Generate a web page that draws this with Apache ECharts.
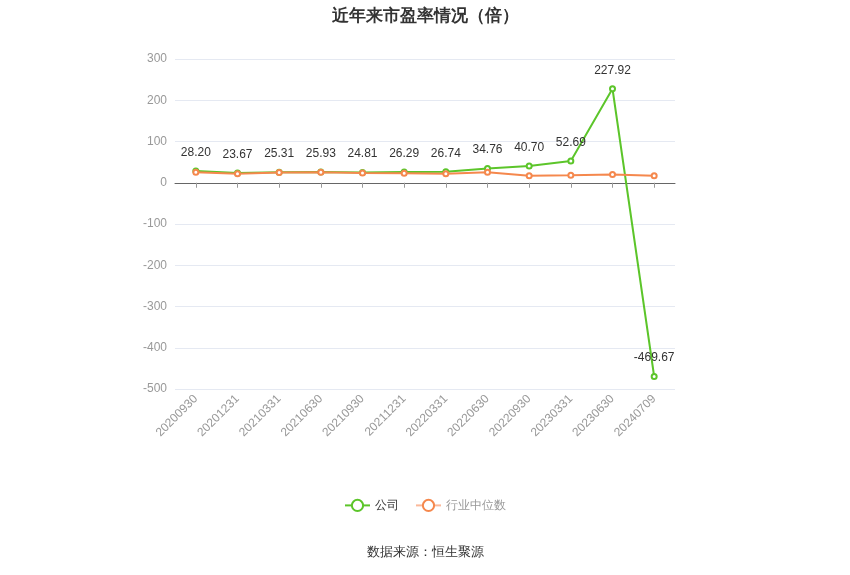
<!DOCTYPE html>
<html lang="zh">
<head>
    <meta charset="UTF-8">
    <title>近年来市盈率情况（倍）</title>
    <script src="https://cdn.jsdelivr.net/npm/echarts@6.0.0/dist/echarts.min.js"></script>
    <style>
        body { margin: 0; padding: 0; background: #fff; }
        #chart { width: 850px; height: 575px; }
    </style>
</head>
<body>
<div id="chart"></div>
<script>
    const dates = ['20200930', '20201231', '20210331', '20210630', '20210930', '20211231',
        '20220331', '20220630', '20220930', '20230331', '20230630', '20240709'];
    const companyPE = [28.20, 23.67, 25.31, 25.93, 24.81, 26.29, 26.74, 34.76, 40.70, 52.69, 227.92, -469.67];
    const industryPE = [25.7, 21.8, 24.8, 25.2, 23.8, 23.2, 22.0, 25.5, 17.0, 18.0, 20.0, 17.0];

    const chart = echarts.init(document.getElementById('chart'));

    chart.setOption({
        animation: false,
        title: {
            text: '近年来市盈率情况（倍）',
            left: 'center',
            top: 3,
            textStyle: { fontSize: 17, fontWeight: 'bold', color: '#333' }
        },
        legend: {
            bottom: 58,
            left: 'center',
            itemWidth: 25,
            itemHeight: 14,
            itemGap: 16,
            data: [
                { name: '公司', textStyle: { color: '#333' } },
                {
                    name: '行业中位数',
                    textStyle: { color: '#999' },
                    itemStyle: { borderColor: '#fbb99a' },
                    lineStyle: { color: '#fbb99a' }
                }
            ],
            textStyle: { fontSize: 12 }
        },
        graphic: [{
            type: 'text',
            left: 'center',
            top: 546,
            style: { text: '数据来源：恒生聚源', fill: '#333', fontSize: 13 }
        }],
        grid: { left: 175, right: 175, top: 59, bottom: 186 },
        xAxis: {
            type: 'category',
            data: dates,
            boundaryGap: true,
            axisLine: { onZero: true, lineStyle: { color: '#666' } },
            axisTick: { show: true, alignWithLabel: true, lineStyle: { color: '#999' } },
            axisLabel: { rotate: 45, color: '#999', fontSize: 12, margin: 8, interval: 0 }
        },
        yAxis: {
            type: 'value',
            min: -500,
            max: 300,
            interval: 100,
            axisLine: { show: false },
            axisTick: { show: false },
            axisLabel: { color: '#999', fontSize: 12 },
            splitLine: { lineStyle: { color: '#e5e9f2' } }
        },
        series: [
            {
                name: '公司',
                type: 'line',
                data: companyPE,
                symbol: 'emptyCircle',
                symbolSize: 5,
                color: '#5cc52a',
                lineStyle: { width: 2, color: '#5cc52a' },
                itemStyle: { color: '#5cc52a' },
                label: {
                    show: true,
                    position: 'top',
                    color: '#333',
                    fontSize: 12,
                    distance: 9,
                    formatter: p => p.value.toFixed(2)
                },
                z: 3
            },
            {
                name: '行业中位数',
                type: 'line',
                data: industryPE,
                symbol: 'emptyCircle',
                symbolSize: 5,
                color: '#f5884d',
                lineStyle: { width: 2, color: '#f5884d' },
                itemStyle: { color: '#f5884d' },
                z: 4
            }
        ]
    });
</script>
</body>
</html>
